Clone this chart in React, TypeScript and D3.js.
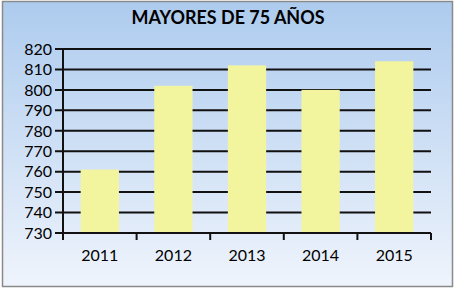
import React from "react";
import * as d3 from "d3";

const title = "MAYORES DE 75 AÑOS";
const years = ["2011", "2012", "2013", "2014", "2015"];
const values = [761, 802, 812, 800, 814];
const yTicks = [730, 740, 750, 760, 770, 780, 790, 800, 810, 820];

const W = 457;
const H = 290;
const left = 63;
const right = 431;
const top = 49;
const bottom = 233;

export default function App() {
  const x = d3.scaleBand<string>().domain(years).range([left, right]).padding(0);
  const y = d3.scaleLinear().domain([730, 820]).range([bottom, top]);
  const bw = x.bandwidth() * 0.52;
  const font = "Lato, 'Open Sans', sans-serif";
  return (
    <svg width={W} height={H} style={{ position: "absolute", left: 0, top: 0, display: "block" }}>
      <defs>
        <linearGradient id="bg" x1="0" y1="0" x2="0" y2="1">
          <stop offset="0" stopColor="#adcbee" />
          <stop offset="1" stopColor="#eff4fc" />
        </linearGradient>
      </defs>
      <rect x={0} y={0} width={W} height={H} fill="#ffffff" />
      <rect x={2.5} y={1.5} width={450} height={285} fill="url(#bg)" stroke="#8a8a8a" strokeWidth={1.5} />
      <text x={228} y={24} textAnchor="middle" fontFamily={font} fontWeight="bold" fontSize={18.5} fill="#000" textLength={193} lengthAdjust="spacingAndGlyphs">
        {title}
      </text>
      {yTicks.map((t) => (
        <g key={t}>
          <line x1={left - 8} x2={right} y1={y(t)} y2={y(t)} stroke="#111" strokeWidth={2} />
          <text x={52} y={y(t)} dy="0.36em" textAnchor="end" fontFamily={font} fontSize={16} fill="#000">
            {t}
          </text>
        </g>
      ))}
      {years.map((yr, i) => (
        <rect
          key={yr}
          x={(x(yr) as number) + (x.bandwidth() - bw) / 2}
          y={y(values[i])}
          width={bw}
          height={bottom - y(values[i])}
          fill="#f3f59e"
        />
      ))}
      <line x1={left} x2={left} y1={top} y2={bottom + 7} stroke="#111" strokeWidth={2} />
      <line x1={left} x2={right} y1={bottom} y2={bottom} stroke="#111" strokeWidth={2} />
      {years.map((yr) => (
        <line key={"t" + yr} x1={(x(yr) as number) + x.bandwidth()} x2={(x(yr) as number) + x.bandwidth()} y1={bottom} y2={bottom + 7} stroke="#111" strokeWidth={2} />
      ))}
      {years.map((yr) => (
        <text key={"l" + yr} x={(x(yr) as number) + x.bandwidth() / 2} y={261} textAnchor="middle" fontFamily={font} fontSize={16} fill="#000">
          {yr}
        </text>
      ))}
    </svg>
  );
}
